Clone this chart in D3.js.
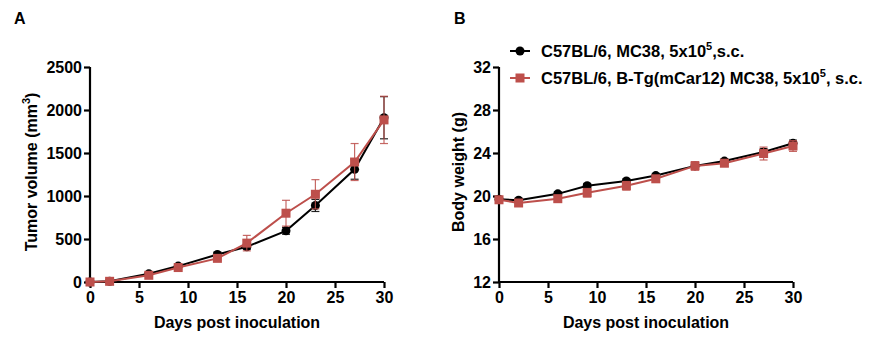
<!DOCTYPE html>
<html>
<head>
<meta charset="utf-8">
<script src="https://cdn.jsdelivr.net/npm/d3@7"></script>
<style>
  body { margin: 0; background: #fff; }
  svg text { font-family: "Liberation Sans", Arial, sans-serif; font-weight: bold; }
</style>
</head>
<body>
<svg id="chart" width="870" height="342"></svg>
<script>
// days measured
const days = [0, 2, 6, 9, 13, 16, 20, 23, 27, 30];

// tumor volume (mm3), mean and SEM
const tumorWt = [0, 8, 95, 185, 320, 410, 595, 890, 1310, 1910];
const tumorWtErr = [0, 5, 15, 20, 25, 30, 40, 70, 115, 245];
const tumorTg = [0, 8, 78, 168, 275, 452, 800, 1020, 1395, 1885];
const tumorTgErr = [0, 5, 15, 20, 25, 90, 150, 170, 215, 275];

// body weight (g), mean and SEM
const weightWt = [19.7, 19.6, 20.2, 20.95, 21.4, 21.9, 22.8, 23.25, 24.1, 24.9];
const weightWtErr = [0.2, 0.2, 0.2, 0.2, 0.2, 0.2, 0.3, 0.2, 0.3, 0.3];
const weightTg = [19.65, 19.35, 19.75, 20.3, 20.95, 21.6, 22.8, 23.05, 23.95, 24.65];
const weightTgErr = [0.2, 0.3, 0.3, 0.4, 0.4, 0.3, 0.4, 0.3, 0.6, 0.5];

const xTicks = [0, 5, 10, 15, 20, 25, 30];
const tumorTicks = [0, 500, 1000, 1500, 2000, 2500];
const weightTicks = [12, 16, 20, 24, 28, 32];

const seriesNames = ["C57BL/6, MC38, 5x10", "C57BL/6, B-Tg(mCar12) MC38, 5x10"];

const BLACK = "#000000";
const RED = "#bd4f4b";
const FONT = 16;

const svg = d3.select("#chart");

function drawPanel(opts) {
  const g = svg.append("g");
  const x = d3.scaleLinear().domain([0, 30]).range([opts.left, opts.right]);
  const y = d3.scaleLinear().domain(opts.yDomain).range([opts.bottom, opts.top]);

  // axes
  const xAxis = g.append("g")
      .attr("transform", `translate(0,${opts.bottom})`)
      .call(d3.axisBottom(x).tickValues(xTicks).tickFormat(d3.format("d"))
        .tickSize(6).tickPadding(4).tickSizeOuter(0));
  const yAxis = g.append("g")
      .attr("transform", `translate(${opts.left},0)`)
      .call(d3.axisLeft(y).tickValues(opts.yTicks).tickFormat(d3.format("d"))
        .tickSize(6).tickPadding(2).tickSizeOuter(0));
  [xAxis, yAxis].forEach(a => {
    a.select(".domain").attr("stroke", "#000").attr("stroke-width", 2.2);
    a.selectAll(".tick line").attr("stroke", "#000").attr("stroke-width", 2.2);
    a.selectAll(".tick text").attr("fill", "#000").attr("font-size", FONT);
  });
  xAxis.select(".domain").attr("d", `M${opts.left - 1},0H${opts.right}`);
  yAxis.select(".domain").attr("d", `M0,${opts.bottom + 1}V${opts.top}`);

  // axis titles
  g.append("text")
      .attr("x", (opts.left + opts.right) / 2)
      .attr("y", opts.bottom + 46)
      .attr("text-anchor", "middle")
      .attr("font-size", FONT)
      .text("Days post inoculation");
  const yt = g.append("text")
      .attr("transform", `translate(${opts.yTitleX},${opts.yTitleY}) rotate(-90)`)
      .attr("text-anchor", "middle")
      .attr("font-size", FONT);
  yt.append("tspan").text(opts.yTitle);
  if (opts.yTitleSup) {
    yt.append("tspan").attr("dy", -7).attr("font-size", 11).text(opts.yTitleSup);
    yt.append("tspan").attr("dy", 7).text(")");
  }

  // panel letter
  g.append("text").attr("x", opts.letterX).attr("y", 24).attr("font-size", FONT).text(opts.letter);

  const line = d3.line().x((d, i) => x(days[i])).y(d => y(d));

  const series = [
    { vals: opts.wt, err: opts.wtErr, color: BLACK, shape: "circle" },
    { vals: opts.tg, err: opts.tgErr, color: RED, shape: "square" }
  ];

  series.forEach(s => {
    const sg = g.append("g");
    // error bars
    s.vals.forEach((v, i) => {
      const cx = x(days[i]);
      const y1 = y(v + s.err[i]), y0 = y(v - s.err[i]);
      sg.append("line").attr("x1", cx).attr("x2", cx).attr("y1", y1).attr("y2", y0)
          .attr("stroke", s.color).attr("stroke-width", 1.2).attr("opacity", 0.85);
      [y1, y0].forEach(yy => sg.append("line")
          .attr("x1", cx - 4).attr("x2", cx + 4).attr("y1", yy).attr("y2", yy)
          .attr("stroke", s.color).attr("stroke-width", 1.2).attr("opacity", 0.85));
    });
    sg.append("path").datum(s.vals).attr("d", line)
        .attr("fill", "none").attr("stroke", s.color).attr("stroke-width", 2);
    s.vals.forEach((v, i) => {
      const cx = x(days[i]), cy = y(v);
      if (s.shape === "circle") {
        sg.append("circle").attr("cx", cx).attr("cy", cy).attr("r", 4.5).attr("fill", s.color);
      } else {
        sg.append("rect").attr("x", cx - 4.5).attr("y", cy - 4.5)
            .attr("width", 9).attr("height", 9).attr("fill", s.color);
      }
    });
  });
}

drawPanel({
  left: 90, right: 384, top: 67, bottom: 282,
  yDomain: [0, 2500], yTicks: tumorTicks,
  wt: tumorWt, wtErr: tumorWtErr, tg: tumorTg, tgErr: tumorTgErr,
  yTitle: "Tumor volume (mm", yTitleSup: "3", yTitleX: 37, yTitleY: 172,
  letter: "A", letterX: 14
});

drawPanel({
  left: 499, right: 793, top: 67, bottom: 282,
  yDomain: [12, 32], yTicks: weightTicks,
  wt: weightWt, wtErr: weightWtErr, tg: weightTg, tgErr: weightTgErr,
  yTitle: "Body weight (g)", yTitleX: 464, yTitleY: 172,
  letter: "B", letterX: 454
});

// legend
const legend = svg.append("g");
const legendRows = [
  { name: seriesNames[0], tail: ",s.c.", color: BLACK, shape: "circle", y: 51 },
  { name: seriesNames[1], tail: ", s.c.", color: RED, shape: "square", y: 78 }
];
legendRows.forEach(r => {
  legend.append("line").attr("x1", 510).attr("x2", 530).attr("y1", r.y).attr("y2", r.y)
      .attr("stroke", r.color).attr("stroke-width", 2);
  if (r.shape === "circle") {
    legend.append("circle").attr("cx", 520).attr("cy", r.y).attr("r", 4.5).attr("fill", r.color);
  } else {
    legend.append("rect").attr("x", 515.5).attr("y", r.y - 4.5).attr("width", 9).attr("height", 9).attr("fill", r.color);
  }
  const t = legend.append("text").attr("x", 541).attr("y", r.y + 6).attr("font-size", 16.5);
  t.append("tspan").text(r.name);
  t.append("tspan").attr("dy", -7).attr("font-size", 11).text("5");
  t.append("tspan").attr("dy", 7).text(r.tail);
});
</script>
</body>
</html>
